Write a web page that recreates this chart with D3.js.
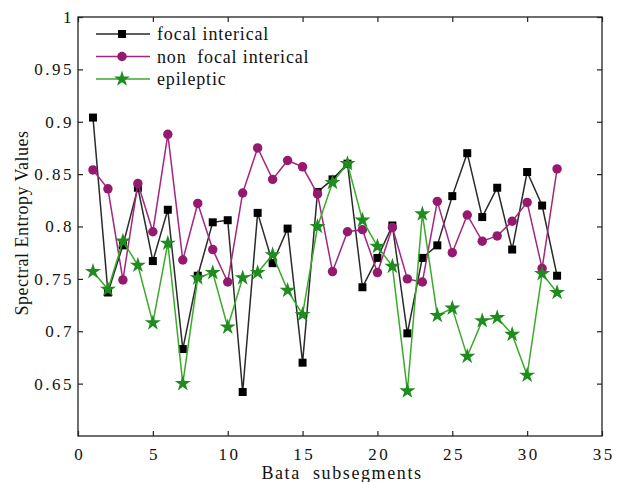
<!DOCTYPE html>
<html>
<head>
<meta charset="utf-8">
<script src="https://cdn.jsdelivr.net/npm/d3@7"></script>
<style>
  body { margin: 0; background: #fff; }
  svg text { font-family: "Liberation Serif", "DejaVu Serif", "Times New Roman", Times, serif !important; }
</style>
</head>
<body>
<script>
// segment index
var segments = d3.range(1, 33);

var focal = [0.904, 0.737, 0.782, 0.837, 0.767, 0.816, 0.683, 0.753, 0.804, 0.806,
             0.642, 0.813, 0.765, 0.798, 0.670, 0.833, 0.845, 0.860, 0.742, 0.770,
             0.801, 0.698, 0.770, 0.782, 0.829, 0.870, 0.809, 0.837, 0.778, 0.852,
             0.820, 0.753];

var nonFocal = [0.854, 0.836, 0.749, 0.841, 0.795, 0.888, 0.768, 0.822, 0.778, 0.747,
                0.832, 0.875, 0.845, 0.863, 0.857, 0.831, 0.757, 0.795, 0.797, 0.756,
                0.799, 0.750, 0.747, 0.824, 0.775, 0.811, 0.786, 0.791, 0.805, 0.823,
                0.760, 0.855];

var epileptic = [0.757, 0.740, 0.786, 0.763, 0.708, 0.784, 0.650, 0.751, 0.756, 0.704,
                 0.751, 0.756, 0.773, 0.739, 0.716, 0.800, 0.842, 0.860, 0.806, 0.781,
                 0.762, 0.643, 0.812, 0.715, 0.722, 0.676, 0.710, 0.713, 0.697, 0.658,
                 0.755, 0.737];

var xTicks = [0, 5, 10, 15, 20, 25, 30, 35];
var yTicks = [0.65, 0.7, 0.75, 0.8, 0.85, 0.9, 0.95, 1];

var seriesList = [
  {name: "focal interical", values: focal, line: "#2a2a2a", fill: "#000000", marker: "square"},
  {name: "non  focal interical", values: nonFocal, line: "#a3267f", fill: "#951a6f", marker: "circle"},
  {name: "epileptic", values: epileptic, line: "#3aaa2a", fill: "#1f8c1f", marker: "star"}
];

var W = 621, H = 482;
var margin = {top: 17, right: 19, bottom: 46, left: 78};
var width = W - margin.left - margin.right,
    height = H - margin.top - margin.bottom;

var svg = d3.select("body").append("svg")
    .attr("width", W)
    .attr("height", H);

var g = svg.append("g")
    .attr("transform", "translate(" + margin.left + "," + margin.top + ")");

var x = d3.scaleLinear().domain([0, 35]).range([0, width]);
var y = d3.scaleLinear().domain([0.6, 1]).range([height, 0]);

// axes, ticks inside like matlab
var styleAxis = function(sel) {
  sel.attr("font-size", 17);
  sel.select(".domain").remove();
  sel.selectAll("line").attr("stroke", "#222").attr("stroke-width", 1.2);
  sel.selectAll("text").attr("fill", "#111").style("letter-spacing", "2.5px");
};

g.append("g")
    .attr("transform", "translate(0," + height + ")")
    .call(d3.axisBottom(x).tickValues(xTicks).tickSizeInner(-5).tickSizeOuter(0).tickPadding(12).tickFormat(d3.format("d")))
    .call(styleAxis)
    .selectAll("text").attr("dx", "1.2px");

g.append("g")
    .call(d3.axisLeft(y).tickValues(yTicks).tickSizeInner(-5).tickSizeOuter(0).tickPadding(4).tickFormat(function(d) { return d3.format("")(+d.toFixed(2)); }))
    .call(styleAxis);

g.append("g")
    .call(d3.axisTop(x).tickValues(xTicks).tickSizeInner(-5).tickSizeOuter(0).tickFormat(""))
    .call(styleAxis);

g.append("g")
    .attr("transform", "translate(" + width + ",0)")
    .call(d3.axisRight(y).tickValues(yTicks).tickSizeInner(-5).tickSizeOuter(0).tickFormat(""))
    .call(styleAxis);

g.append("rect")
    .attr("width", width)
    .attr("height", height)
    .attr("fill", "none")
    .attr("stroke", "#222")
    .attr("stroke-width", 1.3);

var symbols = {
  square: d3.symbol().type(d3.symbolSquare).size(64),
  circle: d3.symbol().type(d3.symbolCircle).size(70),
  star: d3.symbol().type(d3.symbolStar).size(80)
};

var line = d3.line()
    .x(function(d, i) { return x(segments[i]); })
    .y(function(d) { return y(d); });

seriesList.forEach(function(s) {
  g.append("path")
      .datum(s.values)
      .attr("fill", "none")
      .attr("stroke", s.line)
      .attr("stroke-width", 1.5)
      .attr("d", line);

  g.selectAll(".pt-" + s.marker)
      .data(s.values)
      .enter()
      .append("path")
        .attr("class", "pt-" + s.marker)
        .attr("transform", function(d, i) { return "translate(" + x(segments[i]) + "," + y(d) + ")"; })
        .attr("d", symbols[s.marker])
        .attr("fill", s.fill);
});

// legend
var legend = g.append("g").attr("transform", "translate(18,17)");
seriesList.forEach(function(s, i) {
  var row = legend.append("g").attr("transform", "translate(0," + (i * 22.5) + ")");
  row.append("line")
      .attr("x1", 0).attr("x2", 54)
      .attr("stroke", s.line)
      .attr("stroke-width", 1.5);
  row.append("path")
      .attr("transform", "translate(26,0)")
      .attr("d", symbols[s.marker])
      .attr("fill", s.fill);
  row.append("text")
      .attr("x", 61)
      .attr("dy", "0.35em")
      .attr("font-size", 18)
      .style("white-space", "pre")
      .style("letter-spacing", "0.85px")
      .attr("fill", "#111")
      .text(s.name);
});

// axis titles
svg.append("text")
    .attr("x", margin.left + width / 2 + 2)
    .attr("y", 479)
    .attr("text-anchor", "middle")
    .attr("font-size", 18)
    .style("white-space", "pre")
    .style("letter-spacing", "1.6px")
    .attr("fill", "#111")
    .text("Bata  subsegments");

svg.append("text")
    .attr("transform", "translate(28,223) rotate(-90)")
    .attr("text-anchor", "middle")
    .attr("font-size", 18)
    .style("letter-spacing", "0.5px")
    .attr("fill", "#111")
    .text("Spectral Entropy Values");
</script>
</body>
</html>
